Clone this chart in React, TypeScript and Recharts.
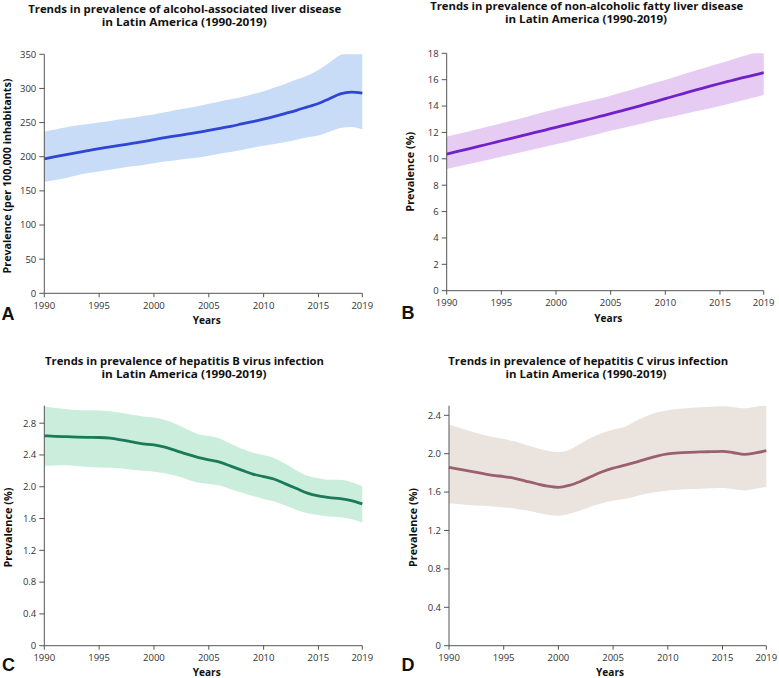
import React from 'react';
import { ComposedChart, Area, Line, XAxis, YAxis } from 'recharts';

const YEARS = [1990, 1991, 1992, 1993, 1994, 1995, 1996, 1997, 1998, 1999, 2000, 2001, 2002, 2003, 2004, 2005, 2006, 2007, 2008, 2009, 2010, 2011, 2012, 2013, 2014, 2015, 2016, 2017, 2018, 2019];
const X_TICKS = [1990, 1995, 2000, 2005, 2010, 2015, 2019];

// A: alcohol-associated liver disease (per 100,000)
const ALD_MEAN = [197, 200, 203, 206, 209, 212, 214.5, 217, 219.5, 222, 225, 228, 230.5, 233, 235.5, 238.5, 241.5, 244.5, 248, 251.5, 255, 259, 263.5, 268, 273, 278, 285, 292, 294.5, 293];
const ALD_HIGH = [237, 240, 243, 246, 248, 250, 252.5, 255, 257, 259.5, 262, 265, 268.5, 271, 274, 277.5, 281, 284, 287.5, 291.5, 296, 301.5, 307, 313, 319, 327, 338, 349, 353, 353];
const ALD_LOW = [163, 166, 169, 173, 176, 178.5, 181, 183.5, 186, 188, 190.5, 193, 195, 197, 199, 201.5, 204.5, 207, 210, 213, 216, 218.5, 221.5, 225, 228.5, 231, 236.5, 242, 243.5, 240];
const ALD_TICKS = [0, 50, 100, 150, 200, 250, 300, 350];

// B: non-alcoholic fatty liver disease (%)
const NAFLD_MEAN = [10.36, 10.56, 10.76, 10.96, 11.16, 11.37, 11.57, 11.77, 11.98, 12.18, 12.39, 12.59, 12.8, 13.0, 13.21, 13.42, 13.64, 13.86, 14.09, 14.32, 14.56, 14.8, 15.03, 15.26, 15.49, 15.71, 15.92, 16.13, 16.33, 16.53];
const NAFLD_HIGH = [11.68, 11.88, 12.08, 12.28, 12.48, 12.69, 12.9, 13.12, 13.34, 13.56, 13.78, 13.98, 14.18, 14.38, 14.58, 14.79, 15.02, 15.26, 15.5, 15.74, 15.98, 16.24, 16.5, 16.75, 17.0, 17.24, 17.5, 17.75, 18.0, 18.25];
const NAFLD_LOW = [9.23, 9.41, 9.6, 9.78, 9.97, 10.16, 10.35, 10.54, 10.72, 10.91, 11.1, 11.3, 11.51, 11.71, 11.92, 12.13, 12.32, 12.51, 12.7, 12.9, 13.09, 13.27, 13.45, 13.64, 13.82, 14.0, 14.21, 14.42, 14.63, 14.84];
const NAFLD_TICKS = [0, 2, 4, 6, 8, 10, 12, 14, 16, 18];

// C: hepatitis B (%)
const HBV_MEAN = [2.641, 2.635, 2.63, 2.625, 2.622, 2.62, 2.611, 2.59, 2.565, 2.54, 2.527, 2.498, 2.455, 2.41, 2.37, 2.338, 2.31, 2.26, 2.21, 2.16, 2.128, 2.095, 2.036, 1.977, 1.92, 1.885, 1.864, 1.85, 1.826, 1.784];
const HBV_HIGH = [3.01, 2.99, 2.976, 2.965, 2.962, 2.96, 2.95, 2.93, 2.905, 2.885, 2.87, 2.84, 2.79, 2.725, 2.665, 2.64, 2.607, 2.54, 2.477, 2.43, 2.4, 2.36, 2.288, 2.204, 2.137, 2.107, 2.087, 2.087, 2.057, 2.01];
const HBV_LOW = [2.263, 2.268, 2.27, 2.26, 2.25, 2.242, 2.238, 2.229, 2.215, 2.2, 2.19, 2.17, 2.137, 2.095, 2.053, 2.036, 2.015, 1.97, 1.927, 1.885, 1.847, 1.814, 1.763, 1.709, 1.667, 1.646, 1.625, 1.616, 1.595, 1.549];
const HBV_TICKS = [0, 0.4, 0.8, 1.2, 1.6, 2.0, 2.4, 2.8];

// D: hepatitis C (%)
const HCV_MEAN = [1.857, 1.836, 1.816, 1.795, 1.774, 1.762, 1.743, 1.715, 1.687, 1.662, 1.649, 1.67, 1.711, 1.762, 1.812, 1.85, 1.878, 1.91, 1.944, 1.975, 1.997, 2.008, 2.014, 2.018, 2.021, 2.024, 2.01, 1.993, 2.008, 2.031];
const HCV_HIGH = [2.303, 2.268, 2.233, 2.2, 2.174, 2.152, 2.129, 2.092, 2.059, 2.03, 2.017, 2.042, 2.104, 2.165, 2.216, 2.25, 2.278, 2.335, 2.39, 2.43, 2.452, 2.467, 2.477, 2.485, 2.49, 2.494, 2.485, 2.473, 2.49, 2.508];
const HCV_LOW = [1.485, 1.474, 1.464, 1.457, 1.45, 1.44, 1.43, 1.41, 1.388, 1.365, 1.353, 1.374, 1.409, 1.45, 1.485, 1.51, 1.527, 1.555, 1.583, 1.602, 1.617, 1.625, 1.631, 1.636, 1.64, 1.642, 1.63, 1.617, 1.635, 1.656];
const HCV_TICKS = [0, 0.4, 0.8, 1.2, 1.6, 2.0, 2.4];

const build = (mean: number[], low: number[], high: number[]) =>
  YEARS.map((y, i) => ({ year: y, mean: mean[i], band: [low[i], high[i]] }));

const AXIS = '#555555';
const TICK_FONT = { fontSize: 9.5, fill: '#333333', fontFamily: '"Open Sans", sans-serif' };
const YW = 30;
const XH = 20;

type PanelProps = {
  left: number; top: number; width: number; height: number;
  plot: { l: number; r: number; t: number; b: number };
  data: any[]; domain: [number, number]; ticks: number[];
  fill: string; stroke: string; fmt?: (v: number) => string;
};

function Panel(p: PanelProps) {
  return (
    <div style={{ position: 'absolute', left: p.left, top: p.top, width: p.width, height: p.height }}>
      <ComposedChart
        width={p.width}
        height={p.height}
        data={p.data}
        margin={{
          left: p.plot.l - p.left - YW,
          right: p.left + p.width - p.plot.r,
          top: p.plot.t - p.top,
          bottom: p.top + p.height - p.plot.b - XH,
        }}
      >
        <XAxis
          type="number"
          dataKey="year"
          domain={[1990, 2019]}
          ticks={X_TICKS}
          height={XH}
          stroke={AXIS}
          tickSize={4}
          tickMargin={5}
          tick={TICK_FONT}
          tickLine={{ stroke: AXIS }}
          interval={0}
        />
        <YAxis
          type="number"
          domain={p.domain}
          ticks={p.ticks}
          allowDataOverflow
          width={YW}
          stroke={AXIS}
          tickSize={5}
          tickMargin={3}
          tick={TICK_FONT}
          tickLine={{ stroke: AXIS }}
          tickFormatter={p.fmt}
          interval={0}
        />
        <Area type="monotone" dataKey="band" stroke="none" fill={p.fill} fillOpacity={1} isAnimationActive={false} />
        <Line type="monotone" dataKey="mean" stroke={p.stroke} strokeWidth={2.8} dot={false} isAnimationActive={false} />
      </ComposedChart>
    </div>
  );
}

const fmt1 = (v: number) => (v === 0 ? '0' : v.toFixed(1));

const TITLE_FONT = '"Open Sans", sans-serif';

function T(props: { x: number; y: number; len?: number; size: number; children: string; rotate?: boolean; anchor?: string; family?: string }) {
  const { x, y, len, size, children, rotate, anchor = 'middle', family = TITLE_FONT } = props;
  return (
    <text
      x={x}
      y={y}
      fontSize={size}
      fontWeight={700}
      fontFamily={family}
      fill="#111111"
      textAnchor={anchor as any}
      dominantBaseline="central"
      textLength={len}
      lengthAdjust={len ? 'spacingAndGlyphs' : undefined}
      transform={rotate ? `rotate(-90 ${x} ${y})` : undefined}
    >
      {children}
    </text>
  );
}

export default function App() {
  return (
    <div style={{ position: 'absolute', left: 0, top: 0, width: 779, height: 678, background: '#fff' }}>
      <Panel left={0} top={0} width={390} height={340} plot={{ l: 44.3, r: 362.3, t: 54.3, b: 293.3 }}
        data={build(ALD_MEAN, ALD_LOW, ALD_HIGH)} domain={[0, 350]} ticks={ALD_TICKS}
        fill="#c8dcf7" stroke="#2f45d4" />
      <Panel left={390} top={0} width={389} height={340} plot={{ l: 446.7, r: 763.7, t: 53.3, b: 290.7 }}
        data={build(NAFLD_MEAN, NAFLD_LOW, NAFLD_HIGH)} domain={[0, 18]} ticks={NAFLD_TICKS}
        fill="#e6ccf3" stroke="#7121c8" />
      <Panel left={0} top={340} width={390} height={338} plot={{ l: 44.3, r: 362.3, t: 405.7, b: 645.7 }}
        data={build(HBV_MEAN, HBV_LOW, HBV_HIGH)} domain={[0, 3.02]} ticks={HBV_TICKS}
        fill="#cbeedc" stroke="#1a7a5a" fmt={fmt1} />
      <Panel left={390} top={340} width={389} height={338} plot={{ l: 449, r: 766.3, t: 405.7, b: 645.7 }}
        data={build(HCV_MEAN, HCV_LOW, HCV_HIGH)} domain={[0, 2.5]} ticks={HCV_TICKS}
        fill="#ebe4de" stroke="#9b6070" fmt={fmt1} />
      <svg width={779} height={678} style={{ position: 'absolute', left: 0, top: 0, pointerEvents: 'none' }}>
        {/* Panel A */}
        <T x={184.7} y={9} len={313} size={10.5}>Trends in prevalence of alcohol-associated liver disease</T>
        <T x={184.2} y={22} len={165} size={10.5}>in Latin America (1990-2019)</T>
        <T x={6.5} y={176} len={195} size={10.5} rotate>Prevalence (per 100,000 inhabitants)</T>
        <T x={206.7} y={320} len={28} size={10.5}>Years</T>
        <T x={1.5} y={314} size={18} anchor="start" family='"Liberation Sans", Arial, sans-serif'>A</T>
        {/* Panel B */}
        <T x={586.7} y={6} len={313} size={10.5}>Trends in prevalence of non-alcoholic fatty liver disease</T>
        <T x={586} y={19} len={162} size={10.5}>in Latin America (1990-2019)</T>
        <T x={410} y={171.7} len={80} size={10.5} rotate>Prevalence (%)</T>
        <T x={608.3} y={317.5} len={28} size={10.5}>Years</T>
        <T x={401.5} y={313} size={18} anchor="start" family='"Liberation Sans", Arial, sans-serif'>B</T>
        {/* Panel C */}
        <T x={184.5} y={360.5} len={279} size={10.5}>Trends in prevalence of hepatitis B virus infection</T>
        <T x={184} y={373.5} len={165} size={10.5}>in Latin America (1990-2019)</T>
        <T x={8.3} y={527.5} len={80} size={10.5} rotate>Prevalence (%)</T>
        <T x={206.7} y={672} len={28} size={10.5}>Years</T>
        <T x={2} y={665} size={18} anchor="start" family='"Liberation Sans", Arial, sans-serif'>C</T>
        {/* Panel D */}
        <T x={588.3} y={360.5} len={280} size={10.5}>Trends in prevalence of hepatitis C virus infection</T>
        <T x={586} y={373.5} len={161} size={10.5}>in Latin America (1990-2019)</T>
        <T x={412.7} y={527.5} len={79} size={10.5} rotate>Prevalence (%)</T>
        <T x={610} y={672} len={28} size={10.5}>Years</T>
        <T x={401.5} y={665} size={18} anchor="start" family='"Liberation Sans", Arial, sans-serif'>D</T>
      </svg>
    </div>
  );
}
